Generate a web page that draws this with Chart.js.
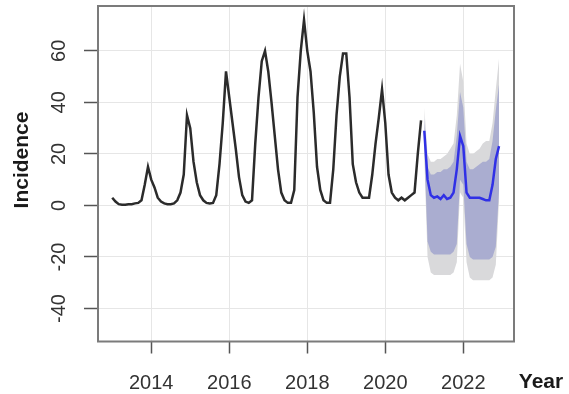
<!DOCTYPE html>
<html><head><meta charset="utf-8">
<script src="https://cdn.jsdelivr.net/npm/chart.js@4.4.0/dist/chart.umd.min.js"></script>
<style>html,body{margin:0;padding:0;background:#fff;}</style>
</head><body>
<canvas id="c" width="569" height="394"></canvas>
<script>
// ---- data ----
const histStartYear = 2013;            // monthly series, Jan 2013 - Dec 2020
const histValues = [
  3, 1.5, 0.5, 0.3, 0.3, 0.5, 0.5, 0.8, 1, 2, 8, 15,        // 2013
  10, 7, 3, 1.5, 0.8, 0.5, 0.5, 0.8, 2, 5, 12, 35,         // 2014
  30, 17, 9, 4, 2, 1, 0.8, 1, 4, 16, 32, 52,               // 2015
  42, 32, 22, 11, 4, 1.5, 1, 2, 24, 42, 56, 60,            // 2016
  52, 40, 27, 14, 5, 2, 1, 1, 6, 42, 60, 72,               // 2017
  60, 52, 36, 15, 6, 2, 1, 1, 14, 35, 50, 59,              // 2018
  59, 42, 16, 9, 5, 3, 3, 3, 12, 24, 34, 45,               // 2019
  32, 12, 5, 3, 2, 3, 2, 3, 4, 5, 20, 33                   // 2020
];
const fcStartYear = 2021;              // forecast, Jan 2021 - Dec 2022
const fcMean = [29, 10, 4, 3, 3.5, 2.5, 4, 2.5, 3, 5, 14, 27,  23, 5, 3, 3, 3, 3, 2.5, 2, 2, 8, 18, 23];
const fcHi80 = [34, 15, 12, 12, 13, 13, 14, 14, 15, 17, 27, 44,  38, 17, 14, 14, 15, 16, 17, 17, 18, 25, 37, 47];
const fcLo80 = [22, -14, -18, -19, -19, -19, -19, -19, -19, -18, -15, 10,  8, -15, -20, -21, -21, -21, -21, -21, -21, -20, -16, 6];
const fcHi95 = [38, 20, 17, 17, 18, 18, 19, 20, 22, 24, 35, 55,  48, 24, 20, 20, 21, 22, 24, 25, 25, 32, 45, 57];
const fcLo95 = [18, -20, -26, -27, -27, -27, -27, -27, -27, -26, -22, 5,  3, -22, -28, -29, -29, -29, -29, -29, -29, -28, -23, 2];
const xTicks = [2014, 2016, 2018, 2020, 2022];
const yTicks = [-40, -20, 0, 20, 40, 60];
const xTitle = 'Year';
const yTitle = 'Incidence';

function monthly(start, arr) { return arr.map((v, i) => ({ x: start + i / 12, y: v })); }

const FONT = '"Liberation Sans", Arial, sans-serif';

const framePlugin = {
  id: 'frame',
  afterDatasetsDraw(chart) {
    const { ctx, chartArea: a } = chart;
    ctx.save();
    ctx.strokeStyle = '#7b7b7b';
    ctx.lineWidth = 2;
    ctx.strokeRect(a.left, a.top, a.right - a.left, a.bottom - a.top);
    ctx.restore();
  },
  afterDraw(chart) {
    const { ctx, chartArea: a } = chart;
    ctx.save();
    ctx.fillStyle = '#1a1a1a';
    ctx.font = 'bold 21px ' + FONT;
    ctx.textAlign = 'center';
    ctx.textBaseline = 'middle';
    ctx.fillText(xTitle, a.right + 27, 382);
    ctx.translate(22, 160);
    ctx.rotate(-Math.PI / 2);
    ctx.fillText(yTitle, 0, 0);
    ctx.restore();
  }
};

const band = (data, color, fill) => ({
  data, borderWidth: 0, pointRadius: 0, backgroundColor: color, fill, tension: 0
});

new Chart(document.getElementById('c'), {
  type: 'line',
  data: {
    datasets: [
      { data: monthly(histStartYear, histValues), borderColor: '#2b2b2b', borderWidth: 2.5, pointRadius: 0, fill: false, tension: 0 },
      { data: monthly(fcStartYear, fcMean), borderColor: '#3030e6', borderWidth: 2.5, pointRadius: 0, fill: false, tension: 0 },
      band(monthly(fcStartYear, fcHi80), '#aaadd0', '+1'),
      band(monthly(fcStartYear, fcLo80), 'rgba(0,0,0,0)', false),
      band(monthly(fcStartYear, fcHi95), '#d9d9db', '+1'),
      band(monthly(fcStartYear, fcLo95), 'rgba(0,0,0,0)', false)
    ]
  },
  options: {
    responsive: false,
    devicePixelRatio: 1,
    animation: false,
    layout: { padding: { top: 6, right: 55, left: 0, bottom: 0 } },
    plugins: { legend: { display: false }, tooltip: { enabled: false } },
    scales: {
      x: {
        type: 'linear', min: 2012.635, max: 2023.3,
        afterFit(s) { s.height = 52.5; s.paddingLeft = 0; s.paddingRight = 0; },
        afterBuildTicks(s) { s.ticks = xTicks.map(v => ({ value: v })); },
        grid: { color: '#e6e6e6', lineWidth: 1, tickLength: 12, tickColor: '#555', tickWidth: 1.5 },
        border: { display: false },
        ticks: { font: { family: FONT, size: 20 }, color: '#333', padding: 18, maxRotation: 0, callback: v => String(v) }
      },
      y: {
        type: 'linear', min: -52.8, max: 77.4,
        afterFit(s) { s.width = 98; s.paddingTop = 0; s.paddingBottom = 0; },
        afterBuildTicks(s) { s.ticks = yTicks.map(v => ({ value: v })); },
        grid: { color: '#e6e6e6', lineWidth: 1, tickLength: 14, tickColor: '#555', tickWidth: 1.5 },
        border: { display: false },
        ticks: { font: { family: FONT, size: 20 }, color: '#333', padding: 10, minRotation: 90, maxRotation: 90, crossAlign: 'center', callback: v => String(v) }
      }
    }
  },
  plugins: [framePlugin]
});
</script>
</body></html>
